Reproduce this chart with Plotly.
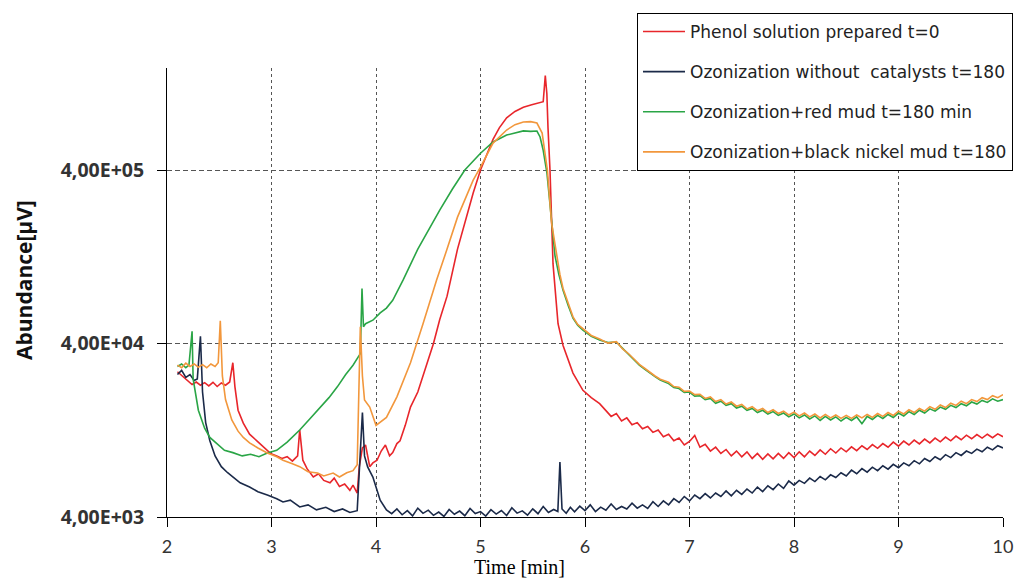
import math
import plotly.graph_objects as go

series_names = [
    "Phenol solution prepared t=0",
    "Ozonization without  catalysts t=180",
    "Ozonization+red mud t=180 min",
    "Ozonization+black nickel mud t=180",
]
series_colors = ["#e8262b", "#1b2a49", "#2aa546", "#f2973c"]

y_tick_values = [4000, 40000, 400000]
y_tick_labels = ["4,00E+03", "4,00E+04", "4,00E+05"]
x_tick_values = [2, 3, 4, 5, 6, 7, 8, 9, 10]

# (time [min], abundance [uV])
red_points = [
    (2.10, 27500), (2.13, 26500), (2.16, 25800), (2.20, 24300), (2.24, 23200), (2.28, 24000),
    (2.32, 23000), (2.36, 23800), (2.40, 22800), (2.44, 23900), (2.48, 22600), (2.52, 23700),
    (2.56, 23000), (2.60, 24000), (2.63, 31000), (2.65, 22500), (2.68, 16500), (2.73, 13900),
    (2.79, 12000), (2.86, 11000), (2.93, 10100), (2.99, 9300), (3.05, 9000), (3.10, 8700),
    (3.15, 8900), (3.20, 8400), (3.25, 9000), (3.27, 12700), (3.30, 8500), (3.34, 7600),
    (3.40, 6800), (3.45, 7100), (3.50, 6500), (3.56, 6300), (3.60, 6700), (3.65, 6000),
    (3.70, 6200), (3.75, 5700), (3.78, 6100), (3.82, 5500), (3.84, 7800), (3.87, 10000),
    (3.90, 10400), (3.94, 7800), (3.97, 8200), (4.01, 8500), (4.05, 9600), (4.09, 10400),
    (4.13, 9000), (4.16, 9400), (4.20, 10600), (4.23, 11000), (4.28, 13500), (4.33, 17200),
    (4.40, 21000), (4.45, 26000), (4.50, 33000), (4.55, 40000), (4.61, 55000), (4.68, 75000),
    (4.78, 140000), (4.85, 200000), (4.93, 295000), (5.00, 400000), (5.06, 490000),
    (5.12, 600000), (5.18, 700000), (5.25, 800000), (5.33, 870000), (5.41, 920000),
    (5.49, 950000), (5.57, 975000), (5.60, 990000), (5.62, 1400000), (5.635, 1100000),
    (5.646, 700000), (5.665, 400000), (5.694, 115000), (5.742, 52000), (5.79, 39000),
    (5.885, 27000), (5.98, 21500), (6.06, 19500), (6.14, 18000),
    (6.20, 16500), (6.25, 15200), (6.30, 15800), (6.35, 14300), (6.40, 14900), (6.45, 13600),
    (6.50, 14000), (6.55, 12900), (6.60, 13300), (6.65, 12300), (6.70, 12700), (6.75, 11600),
    (6.80, 12000), (6.85, 11000), (6.90, 11400), (6.95, 10400), (7.00, 10900), (7.05, 11800),
    (7.10, 10100), (7.15, 10500), (7.20, 9600), (7.25, 10100), (7.30, 9300), (7.35, 9800),
    (7.40, 9000), (7.45, 9600), (7.50, 8900), (7.55, 9500), (7.60, 8700), (7.65, 9300),
    (7.70, 8600), (7.75, 9250), (7.80, 8650), (7.85, 9300), (7.90, 8700), (7.95, 9400),
    (8.00, 8800), (8.05, 9500), (8.10, 8900), (8.15, 9600), (8.20, 9050), (8.25, 9750),
    (8.30, 9200), (8.35, 9900), (8.40, 9350), (8.45, 10000), (8.50, 9500), (8.55, 10150),
    (8.60, 9650), (8.65, 10300), (8.70, 9800), (8.75, 10450), (8.80, 9950), (8.85, 10600),
    (8.90, 10100), (8.95, 10800), (9.00, 10250), (9.05, 10950), (9.10, 10400), (9.15, 11100),
    (9.20, 10550), (9.25, 11250), (9.30, 10700), (9.35, 11400), (9.40, 10850), (9.45, 11550),
    (9.50, 11000), (9.55, 11700), (9.60, 11150), (9.65, 11850), (9.70, 11300), (9.75, 11950),
    (9.80, 11400), (9.85, 12000), (9.90, 11450), (9.95, 12050), (10.00, 11600),
]

navy_points = [
    (2.10, 26500), (2.14, 28000), (2.18, 25500), (2.22, 26500), (2.26, 24500), (2.29, 25000),
    (2.32, 44000), (2.34, 21000), (2.37, 14000), (2.41, 11000), (2.46, 9000), (2.52, 7800),
    (2.58, 7200), (2.63, 6800), (2.70, 6300), (2.79, 5950), (2.87, 5600), (2.96, 5350),
    (3.05, 5100), (3.11, 4880), (3.18, 5000), (3.27, 4570), (3.35, 4700), (3.43, 4400),
    (3.52, 4550), (3.60, 4300), (3.68, 4450), (3.75, 4250), (3.82, 4350), (3.87, 16000),
    (3.89, 9000), (3.92, 7770), (3.97, 6800), (4.04, 5000),
    (4.10, 4390), (4.15, 4180), (4.20, 4450), (4.25, 4120), (4.30, 4350), (4.35, 4060),
    (4.40, 4500), (4.45, 4200), (4.50, 4380), (4.55, 4090), (4.60, 4270), (4.65, 4030),
    (4.70, 4420), (4.75, 4150), (4.80, 4330), (4.85, 4070), (4.90, 4480), (4.95, 4190),
    (5.00, 4300), (5.05, 4050), (5.10, 4410), (5.15, 4160), (5.20, 4360), (5.25, 4080),
    (5.30, 4520), (5.35, 4210), (5.40, 4340), (5.45, 4100), (5.50, 4460), (5.55, 4180),
    (5.60, 4600), (5.65, 4250), (5.70, 4420), (5.74, 4300), (5.76, 8300), (5.78, 4450),
    (5.82, 4200), (5.86, 4550), (5.90, 4280), (5.95, 4620), (6.00, 4350), (6.05, 4700),
    (6.10, 4300), (6.15, 4560), (6.20, 4380), (6.25, 4750), (6.30, 4420), (6.35, 4600),
    (6.40, 4450), (6.45, 4800), (6.50, 4500), (6.55, 4700), (6.60, 4480), (6.65, 4900),
    (6.70, 4600), (6.75, 4950), (6.80, 4700), (6.85, 5100), (6.90, 4850), (6.95, 5250),
    (7.00, 4950), (7.05, 5350), (7.10, 5100), (7.15, 5450), (7.20, 5150), (7.25, 5500),
    (7.30, 5250), (7.35, 5650), (7.40, 5300), (7.45, 5700), (7.50, 5400), (7.55, 5800),
    (7.60, 5500), (7.65, 5950), (7.70, 5600), (7.75, 6050), (7.80, 5750), (7.85, 6200),
    (7.90, 5850), (7.95, 6450), (8.00, 6100), (8.05, 6500), (8.10, 6250), (8.15, 6700),
    (8.20, 6400), (8.25, 6850), (8.30, 6550), (8.35, 7000), (8.40, 6750), (8.45, 7200),
    (8.50, 6900), (8.55, 7450), (8.60, 7100), (8.65, 7600), (8.70, 7250), (8.75, 7750),
    (8.80, 7400), (8.85, 7900), (8.90, 7550), (8.95, 8050), (9.00, 7700), (9.05, 8200),
    (9.10, 7900), (9.15, 8450), (9.20, 8100), (9.25, 8700), (9.30, 8350), (9.35, 8900),
    (9.40, 8550), (9.45, 9150), (9.50, 8800), (9.55, 9400), (9.60, 9050), (9.65, 9600),
    (9.70, 9300), (9.75, 9850), (9.80, 9500), (9.85, 10100), (9.90, 9750), (9.95, 10300),
    (10.00, 10000),
]

green_points = [
    (2.10, 29500), (2.14, 30500), (2.18, 29000), (2.21, 30000), (2.24, 47000), (2.25, 25000),
    (2.30, 16500), (2.36, 13000), (2.41, 11500), (2.48, 10500), (2.55, 9700), (2.63, 9400),
    (2.72, 9000), (2.80, 9200), (2.88, 8900), (2.96, 9350), (3.05, 9700), (3.15, 10800),
    (3.27, 12700), (3.37, 14800), (3.46, 17000), (3.55, 19500), (3.63, 22500), (3.71, 26500),
    (3.78, 30000), (3.85, 35000), (3.866, 83000), (3.88, 50000), (3.90, 52000), (3.95, 53500),
    (3.97, 54500), (4.04, 60000), (4.10, 64000), (4.16, 71000), (4.26, 93000), (4.40, 140000),
    (4.50, 180000), (4.61, 235000), (4.73, 310000), (4.85, 400000), (5.00, 500000),
    (5.12, 580000), (5.25, 636000), (5.33, 655000), (5.41, 672000), (5.48, 668000),
    (5.54, 671000), (5.57, 620000), (5.60, 520000), (5.636, 384000), (5.68, 200000),
    (5.713, 128000), (5.75, 100000), (5.79, 81000), (5.84, 66000), (5.885, 56000),
    (5.93, 51000), (5.98, 47800), (6.06, 44000), (6.14, 41900), (6.22, 40500), (6.30, 40800),
    (6.36, 37500), (6.42, 34500), (6.46, 32500), (6.52, 30000), (6.57, 28500), (6.62, 27000),
    (6.67, 25800), (6.72, 24600),
    (6.80, 23500), (6.85, 22300), (6.90, 22000), (6.95, 20900), (7.00, 21000), (7.05, 19900),
    (7.10, 20000), (7.15, 19000), (7.20, 19300), (7.25, 18100), (7.30, 18600), (7.35, 17600),
    (7.40, 18000), (7.45, 17000), (7.50, 17400), (7.55, 16500), (7.60, 16900), (7.65, 16000),
    (7.70, 16500), (7.75, 15700), (7.80, 16200), (7.85, 15400), (7.90, 15900), (7.95, 15100),
    (8.00, 15700), (8.05, 14900), (8.10, 15500), (8.15, 14700), (8.20, 15300), (8.25, 14400),
    (8.30, 15200), (8.35, 14500), (8.40, 15100), (8.45, 14300), (8.50, 15000), (8.55, 14400),
    (8.60, 15100), (8.65, 13800), (8.70, 15200), (8.75, 14600), (8.80, 15400), (8.85, 14800),
    (8.90, 15600), (8.95, 15000), (9.00, 15900), (9.05, 15300), (9.10, 16200), (9.15, 15600),
    (9.20, 16500), (9.25, 15900), (9.30, 16800), (9.35, 16300), (9.40, 17200), (9.45, 16700),
    (9.50, 17600), (9.55, 17100), (9.60, 18000), (9.65, 17500), (9.70, 18400), (9.75, 17900),
    (9.80, 18800), (9.85, 18300), (9.90, 19200), (9.95, 18600), (10.00, 19000),
]

orange_points = [
    (2.10, 30000), (2.14, 29000), (2.18, 30800), (2.22, 29500), (2.26, 30500), (2.30, 29200),
    (2.34, 30200), (2.38, 29000), (2.42, 30500), (2.46, 29500), (2.49, 31000), (2.51, 54000),
    (2.53, 26000), (2.56, 19000), (2.62, 14500), (2.68, 12500), (2.73, 11500), (2.79, 10700),
    (2.87, 10000), (2.96, 9350), (3.05, 8900), (3.11, 8500), (3.20, 8100), (3.27, 7800),
    (3.35, 7300), (3.44, 7170), (3.50, 6900), (3.59, 7170), (3.65, 6800), (3.72, 7200),
    (3.78, 7400), (3.82, 8000), (3.85, 50000), (3.87, 26000), (3.89, 18900), (3.94, 17200),
    (4.00, 13500), (4.05, 14200), (4.10, 15000), (4.20, 19700), (4.33, 31000), (4.45, 52000),
    (4.58, 93000), (4.68, 140000), (4.78, 214000), (4.93, 350000), (5.00, 416000),
    (5.12, 572000), (5.25, 680000), (5.33, 730000), (5.41, 756000), (5.48, 760000),
    (5.54, 746000), (5.59, 653000), (5.64, 400000), (5.68, 198000), (5.73, 126000),
    (5.76, 100000), (5.79, 83000), (5.84, 67000), (5.885, 57000), (5.93, 51500),
    (5.98, 48500), (6.06, 44500), (6.14, 42500), (6.22, 40200), (6.30, 41000), (6.36, 37200),
    (6.42, 34800), (6.46, 32800), (6.52, 30300), (6.57, 28800), (6.62, 27300), (6.67, 26000),
    (6.72, 24900),
    (6.80, 23900), (6.85, 22600), (6.90, 22400), (6.95, 21200), (7.00, 21300), (7.05, 20300),
    (7.10, 20400), (7.15, 19300), (7.20, 19700), (7.25, 18500), (7.30, 19000), (7.35, 17900),
    (7.40, 18400), (7.45, 17400), (7.50, 17800), (7.55, 16800), (7.60, 17300), (7.65, 16400),
    (7.70, 16900), (7.75, 16000), (7.80, 16600), (7.85, 15800), (7.90, 16300), (7.95, 15500),
    (8.00, 16100), (8.05, 15300), (8.10, 15900), (8.15, 15100), (8.20, 15700), (8.25, 14900),
    (8.30, 15600), (8.35, 14900), (8.40, 15500), (8.45, 14800), (8.50, 15400), (8.55, 14800),
    (8.60, 15500), (8.65, 14900), (8.70, 15600), (8.75, 15000), (8.80, 15800), (8.85, 15200),
    (8.90, 16000), (8.95, 15400), (9.00, 16300), (9.05, 15700), (9.10, 16600), (9.15, 16000),
    (9.20, 16900), (9.25, 16300), (9.30, 17300), (9.35, 16700), (9.40, 17700), (9.45, 17100),
    (9.50, 18100), (9.55, 17600), (9.60, 18600), (9.65, 18000), (9.70, 19000), (9.75, 18500),
    (9.80, 19500), (9.85, 19000), (9.90, 20000), (9.95, 19500), (10.00, 20300),
]

all_points = [red_points, navy_points, green_points, orange_points]

fig = go.Figure()
for i, (name, color, pts) in enumerate(zip(series_names, series_colors, all_points)):
    t_vals = [p[0] for p in pts]
    a_vals = [p[1] for p in pts]
    fig.add_trace(go.Scatter(
        x=t_vals, y=a_vals, mode="lines", name=name,
        legendgroup=f"g{i}",
        line=dict(color=color, width=1.6),
    ))

y_lo = math.log10(4000)
y_hi = y_lo + 2.588

fig.update_layout(
    width=1016, height=578,
    margin=dict(l=167, r=13, t=68, b=61, autoexpand=False),
    paper_bgcolor="white", plot_bgcolor="white",
    showlegend=True,
    legend=dict(
        x=0.5622, y=1.1225, xanchor="left", yanchor="top",
        bgcolor="white", bordercolor="black", borderwidth=1,
        font=dict(family="DejaVu Sans", size=17, color="#222"),
        traceorder="grouped", tracegroupgap=15, itemwidth=42,
    ),
    xaxis=dict(
        range=[2, 10], tickvals=x_tick_values,
        showline=True, linecolor="black", linewidth=1,
        ticks="outside", ticklen=9, tickcolor="black",
        showgrid=True, gridcolor="#555", griddash="3px,3px", gridwidth=1,
        zeroline=False,
        tickfont=dict(family="Lato", size=18, color="#333"),
        ticklabelstandoff=4,
    ),
    yaxis=dict(
        type="log", range=[y_lo, y_hi],
        tickvals=y_tick_values, ticktext=y_tick_labels,
        showline=True, linecolor="black", linewidth=1,
        ticks="outside", ticklen=9, tickcolor="black",
        showgrid=True, gridcolor="#555", griddash="5px,3px", gridwidth=1,
        zeroline=False,
        tickfont=dict(family="Open Sans", size=19.5, color="#333", weight="bold"),
        ticklabelstandoff=9,
    ),
    annotations=[
        dict(text="Time [min]", xref="paper", yref="paper", x=0.422, y=-0.112,
             xanchor="center", yanchor="middle", showarrow=False,
             font=dict(family="Liberation Serif", size=20, color="black")),
        dict(text="Abundance[µV]", xref="paper", yref="paper", x=-0.171, y=0.528,
             xanchor="center", yanchor="middle", showarrow=False, textangle=-90,
             font=dict(family="Open Sans", size=21, color="#111", weight="bold")),
    ],
)

fig.write_html("out.html", config={"displayModeBar": False},
               post_script="document.body.style.margin='0';")
